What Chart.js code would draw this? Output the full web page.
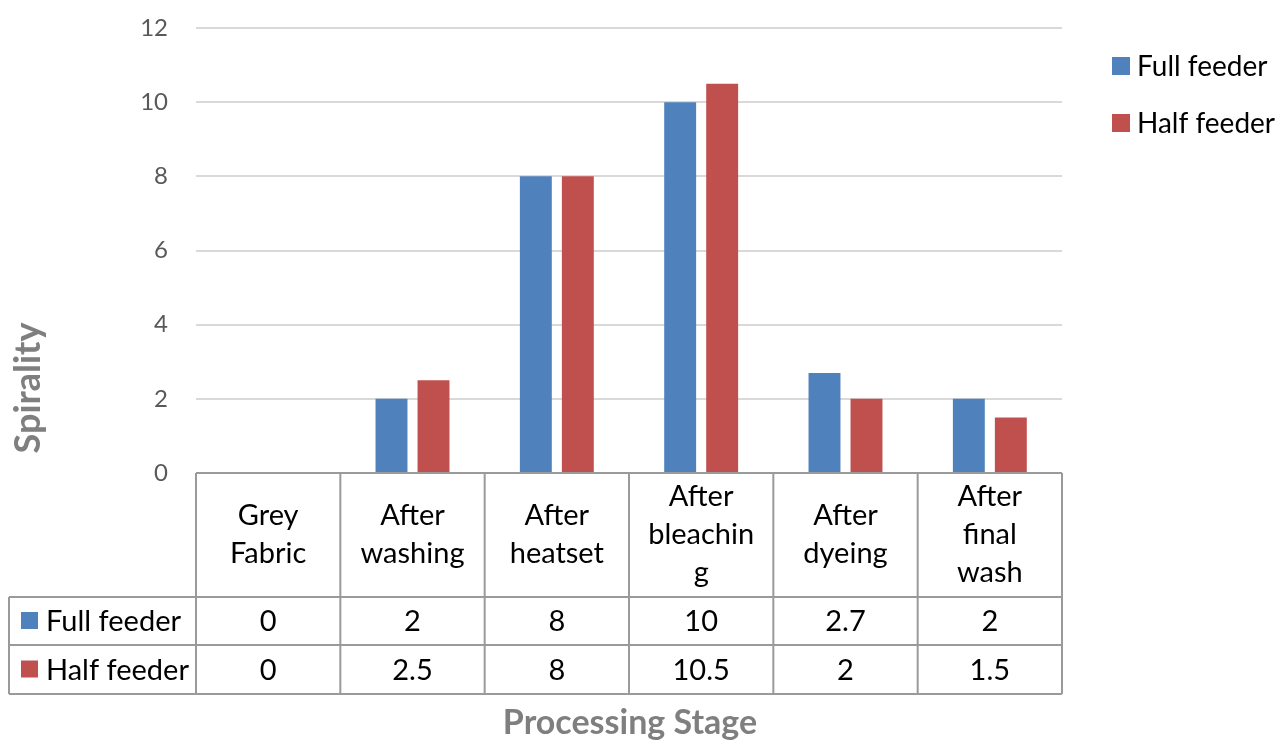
<!DOCTYPE html>
<html>
<head>
<meta charset="utf-8">
<script src="https://cdn.jsdelivr.net/npm/chart.js@4"></script>
<style>
  html,body{margin:0;padding:0;background:#fff;}
  #c{display:block;}
</style>
</head>
<body>
<canvas id="c" width="1279" height="740"></canvas>
<script>
const categories = [["Grey","Fabric"],["After","washing"],["After","heatset"],["After","bleachin","g"],["After","dyeing"],["After","final","wash"]];
const seriesNames = ["Full feeder","Half feeder"];
const fullFeeder = [0, 2, 8, 10, 2.7, 2];
const halfFeeder = [0, 2.5, 8, 10.5, 2, 1.5];
const yTicks = [0, 2, 4, 6, 8, 10, 12];
const colors = ["#4F81BD", "#C0504D"];
const yTitle = "Spirality";
const xTitle = "Processing Stage";

const FONT = "Lato, 'Open Sans', sans-serif";

const tablePlugin = {
  id: 'tablePlugin',
  afterDraw(chart) {
    const ctx = chart.ctx;
    const ca = chart.chartArea;
    const xs = chart.scales.x;
    const n = categories.length;
    const w = (ca.right - ca.left) / n;
    const top = ca.bottom;
    const hdrBottom = top + 124;
    const r1Bottom = hdrBottom + 48;
    const r2Bottom = r1Bottom + 49;
    const leftCol = 9;
    ctx.save();
    ctx.strokeStyle = "#9a9a9a";
    ctx.lineWidth = 2;
    ctx.beginPath();
    ctx.moveTo(ca.left, top); ctx.lineTo(ca.right, top);
    [hdrBottom, r1Bottom, r2Bottom].forEach(y => { ctx.moveTo(leftCol, y); ctx.lineTo(ca.right, y); });
    for (let i = 0; i <= n; i++) {
      const x = ca.left + i * w;
      ctx.moveTo(x, top); ctx.lineTo(x, r2Bottom);
    }
    ctx.moveTo(leftCol, hdrBottom); ctx.lineTo(leftCol, r2Bottom);
    ctx.stroke();

    ctx.fillStyle = "#000";
    ctx.font = "29px " + FONT;
    ctx.textAlign = "center";
    ctx.textBaseline = "middle";
    const lh = 38;
    const hc = (top + hdrBottom) / 2;
    categories.forEach((lines, i) => {
      const cx = xs.getPixelForValue(i);
      const start = hc - (lines.length - 1) * lh / 2;
      lines.forEach((t, j) => ctx.fillText(t, cx, start + j * lh));
    });
    const rows = [fullFeeder, halfFeeder];
    const rowC = [(hdrBottom + r1Bottom) / 2, (r1Bottom + r2Bottom) / 2];
    rows.forEach((vals, r) => {
      vals.forEach((v, i) => {
        ctx.fillText(String(v), xs.getPixelForValue(i), rowC[r] + 1);
      });
      ctx.fillStyle = colors[r];
      ctx.fillRect(21, rowC[r] - 9, 17, 17);
      ctx.fillStyle = "#000";
      ctx.textAlign = "left";
      ctx.fillText(seriesNames[r], 46, rowC[r] + 1);
      ctx.textAlign = "center";
    });

    ctx.font = "28px " + FONT;
    ctx.textAlign = "left";
    const ly = [66, 123];
    seriesNames.forEach((s, r) => {
      ctx.fillStyle = colors[r];
      ctx.fillRect(1112, ly[r] - 9, 18, 18);
      ctx.fillStyle = "#000";
      ctx.fillText(s, 1137, ly[r] + 1);
    });

    ctx.fillStyle = "#7f7f7f";
    ctx.font = "bold 34px " + FONT;
    ctx.textAlign = "center";
    ctx.textBaseline = "alphabetic";
    ctx.fillText(xTitle, 630, 734);
    ctx.textBaseline = "middle";
    ctx.font = "bold 36px " + FONT;
    ctx.save();
    ctx.translate(28, 388);
    ctx.rotate(-Math.PI / 2);
    ctx.fillText(yTitle, 0, 0);
    ctx.restore();
    ctx.restore();
  }
};

new Chart(document.getElementById('c'), {
  type: 'bar',
  data: {
    labels: categories.map(c => c.join(' ')),
    datasets: [
      { label: seriesNames[0], data: fullFeeder, backgroundColor: colors[0], borderWidth: 0 },
      { label: seriesNames[1], data: halfFeeder, backgroundColor: colors[1], borderWidth: 0 }
    ]
  },
  options: {
    responsive: false,
    animation: false,
    categoryPercentage: 0.582,
    barPercentage: 0.76,
    layout: { padding: { top: 28, right: 217, bottom: 267, left: 0 } },
    plugins: { legend: { display: false }, tooltip: { enabled: false } },
    scales: {
      x: {
        ticks: { display: false },
        grid: { display: false },
        border: { display: false },
        afterFit(s) { s.height = 0; s.paddingLeft = 0; s.paddingRight = 0; }
      },
      y: {
        min: 0, max: 12,
        afterBuildTicks(s) { s.ticks = yTicks.map(v => ({ value: v })); },
        ticks: { color: "#595959", font: { family: FONT, size: 24 }, padding: 28 },
        grid: { color: "#d9d9d9", lineWidth: 2, drawTicks: false },
        border: { display: false },
        afterFit(s) { s.width = 196; s.paddingTop = 0; s.paddingBottom = 0; }
      }
    }
  },
  plugins: [tablePlugin]
});
</script>
</body>
</html>
